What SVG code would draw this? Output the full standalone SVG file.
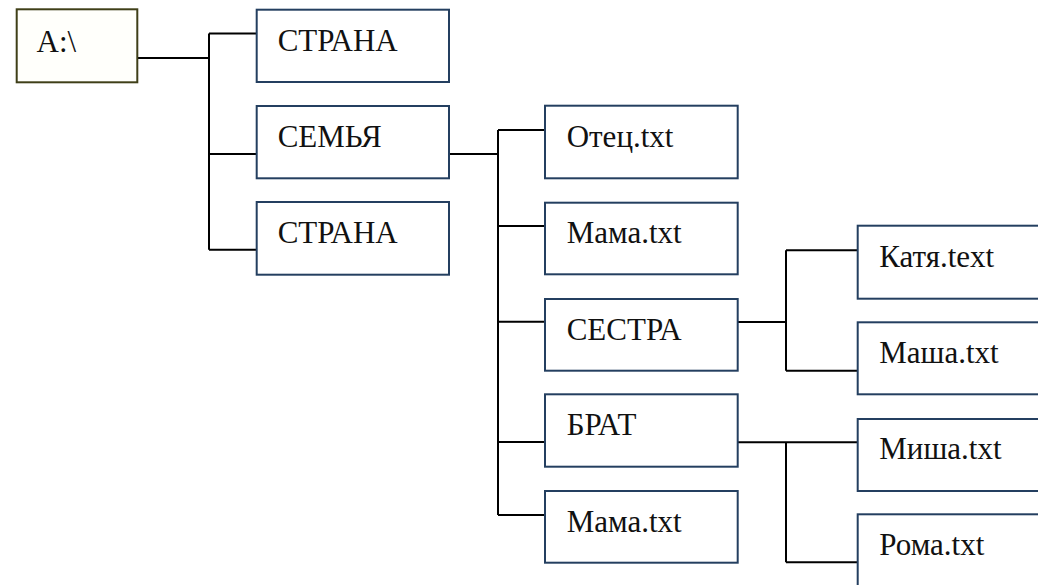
<svg xmlns="http://www.w3.org/2000/svg" width="1038" height="585" viewBox="0 0 1038 585">
<style>
.box{fill:#ffffff;stroke:#243f60;stroke-width:2}
.root{fill:#fffffb;stroke:#3f3f18;stroke-width:2}
.t{font-family:'Liberation Serif','Times New Roman','DejaVu Serif',serif;font-size:31px;fill:#111}
.c{fill:none;stroke:#000;stroke-width:2}
</style>
<rect width="1038" height="585" fill="#fff"/>
<g id="connectors">
<path class="c" d="M137,58 H209 M209,33.5 V249.7 M209,33.5 H257 M209,154 H257 M209,249.7 H257"/>
<path class="c" d="M449,154 H498 M498,130 V515 M498,130 H545 M498,226 H545 M498,321.7 H545 M498,442 H545 M498,515 H545"/>
<path class="c" d="M738,322 H786 M786,250.3 V370.7 M786,250.3 H858 M786,370.7 H858"/>
<path class="c" d="M738,442.3 H858 M786,442.3 V562.3 M786,562.3 H858"/>
</g>
<g id="root"><rect class="root" x="16.7" y="9.3" width="120.6" height="73"/><text class="t" x="36.5" y="51.7" font-family="Liberation Serif, serif">A:\</text></g>
<g id="strana1"><rect class="box" x="256.7" y="9.7" width="192.3" height="72.3"/><text class="t" x="277.7" y="50.7">СТРАНА</text></g>
<g id="semya"><rect class="box" x="256.7" y="106" width="192.3" height="72.3"/><text class="t" x="277.7" y="146.7">СЕМЬЯ</text></g>
<g id="strana2"><rect class="box" x="256.7" y="202" width="192.3" height="72.7"/><text class="t" x="277.7" y="243">СТРАНА</text></g>
<g id="otec"><rect class="box" x="545" y="105.7" width="192.7" height="72.6"/><text class="t" x="566.7" y="146.7">Отец.txt</text></g>
<g id="mama1"><rect class="box" x="545" y="202.7" width="192.7" height="71.6"/><text class="t" x="566.7" y="243.3">Мама.txt</text></g>
<g id="sestra"><rect class="box" x="545" y="299" width="192.7" height="71.7"/><text class="t" x="566.7" y="339.7">СЕСТРА</text></g>
<g id="brat"><rect class="box" x="545" y="394.3" width="192.7" height="72.4"/><text class="t" x="566.7" y="435.3">БРАТ</text></g>
<g id="mama2"><rect class="box" x="545" y="491" width="192.7" height="71.7"/><text class="t" x="566.7" y="532">Мама.txt</text></g>
<g id="katya"><rect class="box" x="857.7" y="225.7" width="192.7" height="73"/><text class="t" x="879.3" y="267.3">Катя.text</text></g>
<g id="masha"><rect class="box" x="857.7" y="322.3" width="192.7" height="72"/><text class="t" x="879.3" y="363.3">Маша.txt</text></g>
<g id="misha"><rect class="box" x="857.7" y="419" width="192.7" height="72"/><text class="t" x="879.3" y="459.3">Миша.txt</text></g>
<g id="roma"><rect class="box" x="857.7" y="514.3" width="192.7" height="72"/><text class="t" x="879.3" y="555.3">Рома.txt</text></g>
</svg>
